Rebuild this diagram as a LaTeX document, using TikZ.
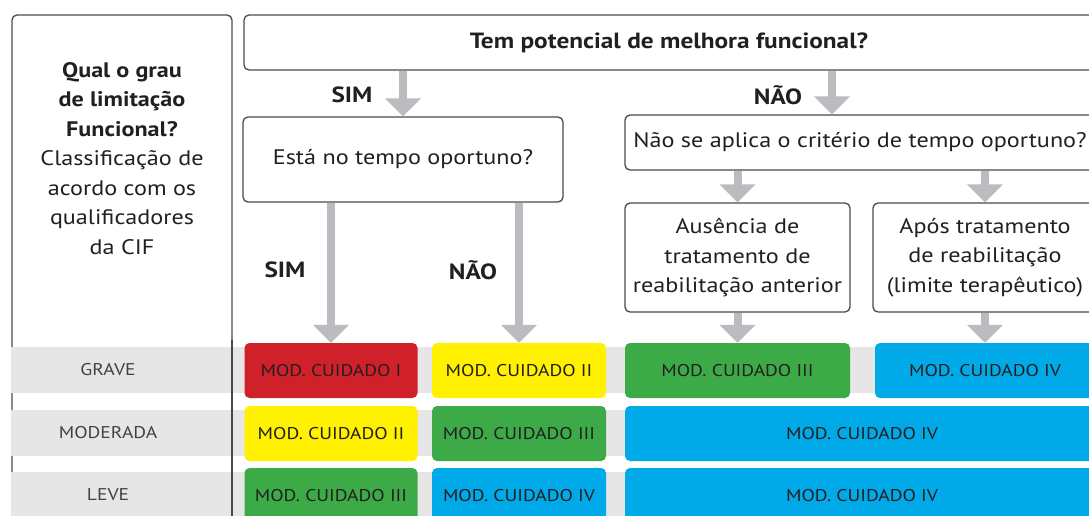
\documentclass[tikz,border=0pt]{standalone}
\usepackage{fontspec}
\setmainfont{PT Sans}[FakeStretch=1.15]
\usetikzlibrary{arrows.meta}

\definecolor{modred}{HTML}{D0212A}
\definecolor{modyellow}{HTML}{FFF100}
\definecolor{modgreen}{HTML}{3DAA48}
\definecolor{modblue}{HTML}{00AAE9}
\definecolor{bandgray}{HTML}{E6E6E6}
\definecolor{arrowgray}{HTML}{BBBCC0}
\definecolor{framegray}{HTML}{4A4A4A}
\definecolor{txt}{HTML}{231F20}

\begin{document}
\begin{tikzpicture}[x=1pt,y=-1pt,
		questionnode/.style={
		% The shape:
		rectangle, rounded corners=5pt,
		% The border:
		draw=framegray, line width=1.3pt,
		% The filling:
		fill=white,
		% Font
		font=\fontsize{21}{29.5}\selectfont, text=txt, align=center, inner sep=0pt
		},
		modnode/.style={
		% The shape:
		rectangle, rounded corners=5pt, minimum height=55pt, inner sep=0pt,
		% Font
		font=\fontsize{17}{20}\selectfont, text=txt
		},
		rownode/.style={font=\fontsize{17}{20}\selectfont, text=txt!85},
		answer/.style={font=\bfseries\fontsize{22}{24}\selectfont, text=txt},
		flow/.style={draw=arrowgray, line width=8pt, -{Triangle[width=35pt,length=18pt]}}
	]
	\clip (0,0) rectangle (1089,515);
	\fill[white] (0,0) rectangle (1089,515);

	% left column
	\draw[framegray, line width=1.3pt, rounded corners=5pt] (12,15) rectangle (232,600);
	\node (grau)[text=txt, align=center, font=\fontsize{21}{29.5}\selectfont] at (122,158.5)
		{\textbf{Qual o grau}\\ \textbf{de limitação}\\ \textbf{Funcional?}\\ Classificação de\\ acordo com os\\ qualificadores\\ da CIF};

	% gray bands of the rows
	\fill[bandgray] (11,347) rectangle (1100,393);
	\fill[bandgray] (11,410) rectangle (1100,456);
	\fill[bandgray] (11,472) rectangle (1100,520);
	\draw[framegray, line width=1.3pt] (232,340) -- (232,520);

	\node (grave)[rownode] at (108,370) {GRAVE};
	\node (moderada)[rownode] at (108,433) {MODERADA};
	\node (leve)[rownode] at (108,495) {LEVE};

	% questions
	\node (top)[questionnode, minimum width=850pt, minimum height=55pt, font=\bfseries\fontsize{22}{24}\selectfont] at (669,42.5) {Tem potencial de melhora funcional?};
	\node (est)[questionnode, minimum width=320pt, minimum height=85pt] at (403,159.5) {Está no tempo oportuno?};
	\node (nao)[questionnode, minimum width=470pt, minimum height=55pt] at (860,142.5) {Não se aplica o critério de tempo oportuno?};
	\node (aus)[questionnode, minimum width=225pt, minimum height=109pt] at (737.5,257.5) {Ausência de\\ tratamento de\\ reabilitação anterior};
	\node (apos)[questionnode, minimum width=224pt, minimum height=109pt] at (985,257.5) {Após tratamento\\ de reabilitação\\ (limite terapêutico)};

	\node (sim1)[answer] at (352,95) {SIM};
	\node (nao1)[answer] at (778,95) {NÃO};
	\node (sim2)[answer] at (285,270) {SIM};
	\node (nao2)[answer] at (473,270) {NÃO};

	% care modules
	\node (g1)[modnode, fill=modred, minimum width=173pt] at (331,370.5) {MOD. CUIDADO I};
	\node (g2)[modnode, fill=modyellow, minimum width=174pt] at (519,370.5) {MOD. CUIDADO II};
	\node (g3)[modnode, fill=modgreen, minimum width=225pt] at (737.5,370.5) {MOD. CUIDADO III};
	\node (g4)[modnode, fill=modblue, minimum width=220pt] at (985,370.5) {MOD. CUIDADO IV};
	\node (m1)[modnode, fill=modyellow, minimum width=173pt] at (331,433.5) {MOD. CUIDADO II};
	\node (m2)[modnode, fill=modgreen, minimum width=174pt] at (519,433.5) {MOD. CUIDADO III};
	\node (m3)[modnode, fill=modblue, minimum width=474pt] at (862,433.5) {MOD. CUIDADO IV};
	\node (l1)[modnode, fill=modgreen, minimum width=173pt] at (331,495.5) {MOD. CUIDADO III};
	\node (l2)[modnode, fill=modblue, minimum width=174pt] at (519,495.5) {MOD. CUIDADO IV};
	\node (l3)[modnode, fill=modblue, minimum width=474pt] at (862,495.5) {MOD. CUIDADO IV};

	\draw[flow] (top.south -| est.north) -- (est.north);
	\draw[flow] ([xshift=-28pt]top.south -| nao.north) -- ([xshift=-28pt]nao.north);
	\draw[flow] (est.south -| g1.north) -- (g1.north);
	\draw[flow] (est.south -| g2.north) -- (g2.north);
	\draw[flow] (nao.south -| aus.north) -- (aus.north);
	\draw[flow] (nao.south -| apos.north) -- (apos.north);
	\draw[flow] (aus.south) -- (g3.north);
	\draw[flow] (apos.south) -- (g4.north);
\end{tikzpicture}
\end{document}
